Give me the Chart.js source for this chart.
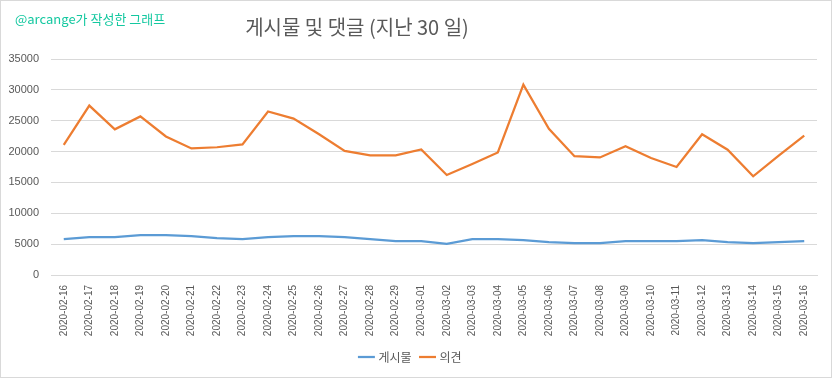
<!DOCTYPE html>
<html>
<head>
<meta charset="utf-8">
<script src="https://cdn.jsdelivr.net/npm/chart.js@4"></script>
<style>
  html, body { margin: 0; padding: 0; background: #fff; }
  #wrap { width: 830px; height: 376px; border: 1px solid #d9d9d9; }
</style>
</head>
<body>
<div id="wrap"><canvas id="line-chart" width="830" height="376"></canvas></div>
<script>
const labels = ['2020-02-16', '2020-02-17', '2020-02-18', '2020-02-19', '2020-02-20', '2020-02-21',
    '2020-02-22', '2020-02-23', '2020-02-24', '2020-02-25', '2020-02-26', '2020-02-27', '2020-02-28',
    '2020-02-29', '2020-03-01', '2020-03-02', '2020-03-03', '2020-03-04', '2020-03-05', '2020-03-06',
    '2020-03-07', '2020-03-08', '2020-03-09', '2020-03-10', '2020-03-11', '2020-03-12', '2020-03-13',
    '2020-03-14', '2020-03-15', '2020-03-16'];

const posts = [5800, 6150, 6150, 6450, 6450, 6300, 5980, 5820, 6150, 6300, 6300, 6150, 5820,
    5500, 5500, 5060, 5820, 5820, 5650, 5330, 5170, 5170, 5500, 5500, 5500, 5650, 5330,
    5170, 5330, 5500];

const comments = [21100, 27450, 23600, 25700, 22450, 20500, 20700, 21150, 26500, 25350, 22800, 20100, 19400,
    19400, 20350, 16200, 18000, 19850, 30850, 23700, 19250, 19050, 20850, 18950, 17500, 22800, 20300,
    16000, 19350, 22600];

const yTicks = [0, 5000, 10000, 15000, 20000, 25000, 30000, 35000];

const textFont = "'Noto Sans CJK KR', 'Noto Sans', sans-serif";

const headerPlugin = {
    id: 'header',
    afterDraw(chart) {
        const ctx = chart.ctx;
        ctx.save();
        ctx.textBaseline = 'middle';
        ctx.fillStyle = '#14c8a0';
        ctx.font = "13px " + textFont;
        ctx.textAlign = 'left';
        ctx.fillText('@arcange가 작성한 그래프', 14, 18);
        ctx.fillStyle = '#595959';
        ctx.font = "20px " + textFont;
        ctx.textAlign = 'center';
        ctx.fillText('게시물 및 댓글 (지난 30 일)', 356, 26);
        ctx.restore();
    }
};

const data = {
    labels: labels,
    datasets: [
        {
            label: '게시물',
            data: posts,
            borderColor: '#5b9bd5',
            backgroundColor: '#5b9bd5',
            borderWidth: 2.25,
            pointRadius: 0,
            tension: 0
        },
        {
            label: '의견',
            data: comments,
            borderColor: '#ed7d31',
            backgroundColor: '#ed7d31',
            borderWidth: 2.25,
            pointRadius: 0,
            tension: 0
        }
    ]
};

const configLine = {
    type: 'line',
    data: data,
    plugins: [headerPlugin],
    options: {
        responsive: false,
        animation: false,
        layout: { padding: { top: 58, left: 4, right: 14, bottom: 4 } },
        plugins: {
            title: { display: false },
            tooltip: { enabled: false },
            legend: {
                position: 'bottom',
                labels: {
                    font: { family: textFont, size: 12 },
                    color: '#595959',
                    usePointStyle: true,
                    pointStyle: 'line',
                    boxWidth: 27,
                    padding: 10
                }
            }
        },
        scales: {
            x: {
                offset: true,
                grid: { display: false, drawTicks: false },
                border: { color: '#d9d9d9' },
                ticks: {
                    color: '#595959',
                    font: { family: "'Liberation Sans', sans-serif", size: 10 },
                    minRotation: 90,
                    maxRotation: 90,
                    autoSkip: false,
                    padding: 10
                },
                afterFit(scale) { scale.height = 66; }
            },
            y: {
                min: 0,
                max: 35000,
                afterBuildTicks(scale) { scale.ticks = yTicks.map(v => ({ value: v })); },
                grid: { color: '#d9d9d9', drawTicks: false },
                border: { display: false },
                ticks: {
                    color: '#595959',
                    font: { family: "'Liberation Sans', sans-serif", size: 11 },
                    padding: 12,
                    callback: (v) => String(v)
                },
                afterFit(scale) { scale.width = 46; }
            }
        }
    }
};

const lineChart = document.querySelector('#line-chart');
if (lineChart) {
    const lineChartOb = new Chart(lineChart, configLine);
}
</script>
</body>
</html>
